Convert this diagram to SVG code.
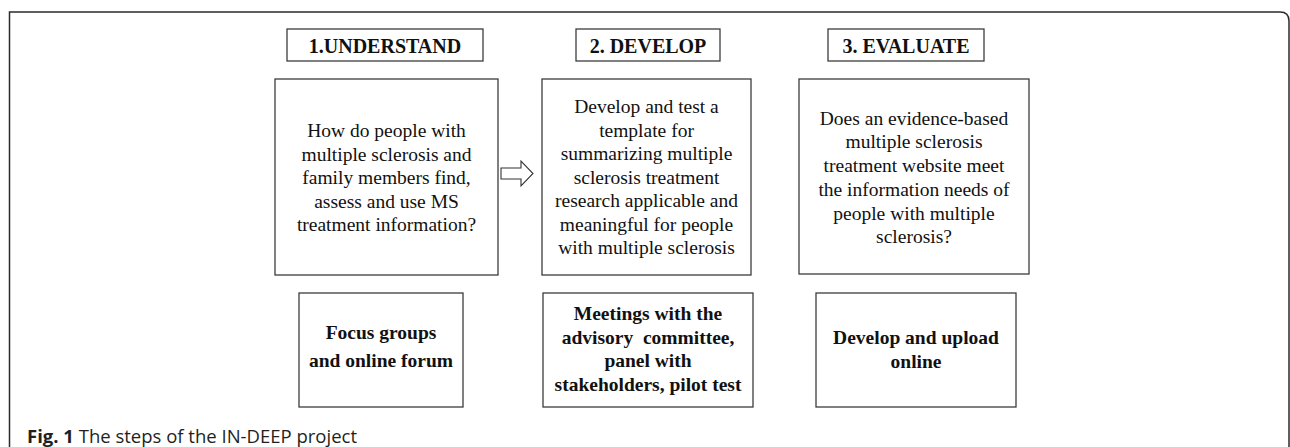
<svg xmlns="http://www.w3.org/2000/svg" width="1290" height="447" viewBox="0 0 1290 447">
<style>
.box{fill:#fff;stroke:#3c3c3c;stroke-width:1.3}
.hd{font-family:"Liberation Serif","Times New Roman",serif;font-weight:bold;font-size:20px;fill:#111;text-anchor:middle}
.tx{font-family:"Liberation Serif","Times New Roman",serif;font-size:19.5px;fill:#111;text-anchor:middle}
.bd{font-family:"Liberation Serif","Times New Roman",serif;font-weight:bold;font-size:19.5px;fill:#111;text-anchor:middle;white-space:pre}
.cap{font-family:"Open Sans","Noto Sans",sans-serif;font-size:18.5px;fill:#231f20}
</style>
<rect width="1290" height="447" fill="#fff"/>
<path d="M9.5,447 V12 H1280 Q1289,12 1289,21 V447" fill="none" stroke="#2b2b2b" stroke-width="1.5"/>

<g id="h1"><rect class="box" x="287" y="29" width="196" height="32"/><text class="hd" x="385" y="53">1.UNDERSTAND</text></g>
<g id="h2"><rect class="box" x="576" y="29" width="144" height="32"/><text class="hd" x="648" y="53">2. DEVELOP</text></g>
<g id="h3"><rect class="box" x="828" y="29" width="156" height="32"/><text class="hd" x="906" y="53">3. EVALUATE</text></g>

<g id="q1"><rect class="box" x="275" y="79" width="223" height="196"/>
<text class="tx"><tspan x="386.5" y="137">How do people with</tspan><tspan x="386.5" y="160.5">multiple sclerosis and</tspan><tspan x="386.5" y="184">family members find,</tspan><tspan x="386.5" y="207.5">assess and use MS</tspan><tspan x="386.5" y="231">treatment information?</tspan></text></g>

<g id="q2"><rect class="box" x="542" y="79" width="209" height="196"/>
<text class="tx"><tspan x="646.5" y="113">Develop and test a</tspan><tspan x="646.5" y="136.5">template for</tspan><tspan x="646.5" y="160">summarizing multiple</tspan><tspan x="646.5" y="183.5">sclerosis treatment</tspan><tspan x="646.5" y="207">research applicable and</tspan><tspan x="646.5" y="230.5">meaningful for people</tspan><tspan x="646.5" y="254">with multiple sclerosis</tspan></text></g>

<g id="q3"><rect class="box" x="799" y="79" width="230" height="195"/>
<text class="tx"><tspan x="914" y="124.5">Does an evidence-based</tspan><tspan x="914" y="148.2">multiple sclerosis</tspan><tspan x="914" y="172">treatment website meet</tspan><tspan x="914" y="195.7">the information needs of</tspan><tspan x="914" y="219.5">people with multiple</tspan><tspan x="914" y="243.2">sclerosis?</tspan></text></g>

<g id="m1"><rect class="box" x="299" y="293" width="164" height="114"/>
<text class="bd"><tspan x="381" y="338.5">Focus groups</tspan><tspan x="381" y="367">and online forum</tspan></text></g>

<g id="m2"><rect class="box" x="543" y="293" width="210" height="114"/>
<text class="bd"><tspan x="648" y="320">Meetings with the</tspan><tspan x="648" y="343.5">advisory  committee,</tspan><tspan x="648" y="367">panel with</tspan><tspan x="648" y="391">stakeholders, pilot test</tspan></text></g>

<g id="m3"><rect class="box" x="816" y="293" width="200" height="114"/>
<text class="bd"><tspan x="916" y="344">Develop and upload</tspan><tspan x="916" y="368">online</tspan></text></g>

<g id="connectors">
<polygon points="501,168 521,168 521,161 533,173.5 521,186 521,179 501,179" fill="#fff" stroke="#333" stroke-width="1.1" stroke-linejoin="miter"/>
</g>

<text class="cap" x="27" y="443"><tspan font-weight="bold">Fig. 1</tspan> The steps of the IN-DEEP project</text>
</svg>
